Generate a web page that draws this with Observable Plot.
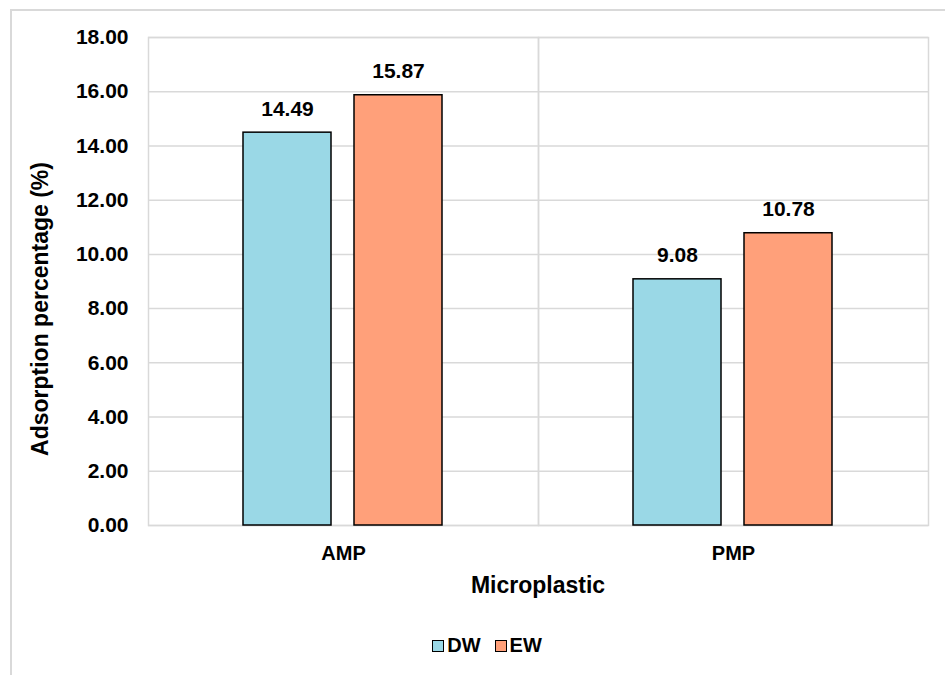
<!DOCTYPE html>
<html>
<head>
<meta charset="utf-8">
<script src="https://cdn.jsdelivr.net/npm/d3@7"></script>
<script src="https://cdn.jsdelivr.net/npm/@observablehq/plot@0.6"></script>
<style>
  html, body { margin: 0; padding: 0; background: #fff; }
  body { width: 945px; height: 675px; position: relative; overflow: hidden; font-family: "Liberation Sans", Arial, sans-serif; }
  #border { position: absolute; left: 10px; top: 9px; width: 1000px; height: 800px; border-top: 2px solid #d9d9d9; border-left: 2px solid #d9d9d9; }
  #chart { position: absolute; left: 0; top: 0; }
  #legend { position: absolute; top: 634px; left: 0; width: 974px; display: flex; justify-content: center; gap: 14px; font: bold 20px "Liberation Sans", Arial, sans-serif; color: #000; }
  #legend .item { display: flex; align-items: center; gap: 3px; }
  #legend .sw { width: 10px; height: 10px; border: 1.5px solid #000; }
</style>
</head>
<body>
<div id="border"></div>
<div id="chart"></div>
<div id="legend"></div>
<script>
const categories = ["AMP", "PMP"];
const series = ["DW", "EW"];
const dwValues = [14.49, 9.08];
const ewValues = [15.87, 10.78];
const yTicks = [0, 2, 4, 6, 8, 10, 12, 14, 16, 18];
const colors = ["#9AD8E6", "#FFA07A"];

const data = [];
categories.forEach((c, i) => {
  data.push({cat: c, series: "DW", value: dwValues[i]});
  data.push({cat: c, series: "EW", value: ewValues[i]});
});

const font = '"Liberation Sans", Arial, sans-serif';

const chart = Plot.plot({
  width: 945,
  height: 610,
  marginLeft: 148,
  marginRight: 17,
  marginTop: 37,
  marginBottom: 85,
  style: {fontFamily: font, fontSize: "20px", fontWeight: "bold", color: "#000", background: "transparent", overflow: "visible"},
  fx: {domain: categories, padding: 0, label: null},
  x: {domain: series, paddingInner: 0.207, paddingOuter: 0.86, axis: null},
  y: {domain: [0, 18], label: null},
  color: {domain: series, range: colors},
  marks: [
    Plot.gridY(yTicks, {stroke: "#d9d9d9", strokeOpacity: 1, strokeWidth: 1.5}),
    Plot.frame({stroke: "#d9d9d9", strokeWidth: 1.5}),
    Plot.axisY({ticks: yTicks, tickFormat: d3.format(".2f"), tickSize: 0, tickPadding: 20, label: null, fontSize: 21, fontWeight: "bold"}),
    Plot.axisFx({anchor: "bottom", tickSize: 0, tickPadding: 20, label: null, fontSize: 20}),
    Plot.barY(data, {fx: "cat", x: "series", y: "value", fill: "series", stroke: "#000", strokeWidth: 1.5}),
    Plot.text(data, {fx: "cat", x: "series", y: "value", text: d => d.value.toFixed(2), lineAnchor: "bottom", dy: -17, fontSize: 21, fontWeight: "bold", fill: "#000"})
  ]
});
document.getElementById("chart").appendChild(chart);

// axis titles (added as real text to the svg)
const svg = d3.select(chart);
svg.append("text")
  .attr("x", 538).attr("y", 593)
  .attr("text-anchor", "middle")
  .attr("font-family", font).attr("font-weight", "bold").attr("font-size", 23).attr("fill", "#000")
  .text("Microplastic");
svg.append("text")
  .attr("transform", "translate(48,309) rotate(-90)")
  .attr("text-anchor", "middle")
  .attr("font-family", font).attr("font-weight", "bold").attr("font-size", 23).attr("fill", "#000")
  .text("Adsorption percentage (%)");

const legend = document.getElementById("legend");
series.forEach((s, i) => {
  const item = document.createElement("div");
  item.className = "item";
  const sw = document.createElement("div");
  sw.className = "sw";
  sw.style.background = colors[i];
  const t = document.createElement("span");
  t.textContent = s;
  item.appendChild(sw);
  item.appendChild(t);
  legend.appendChild(item);
});
</script>
</body>
</html>
